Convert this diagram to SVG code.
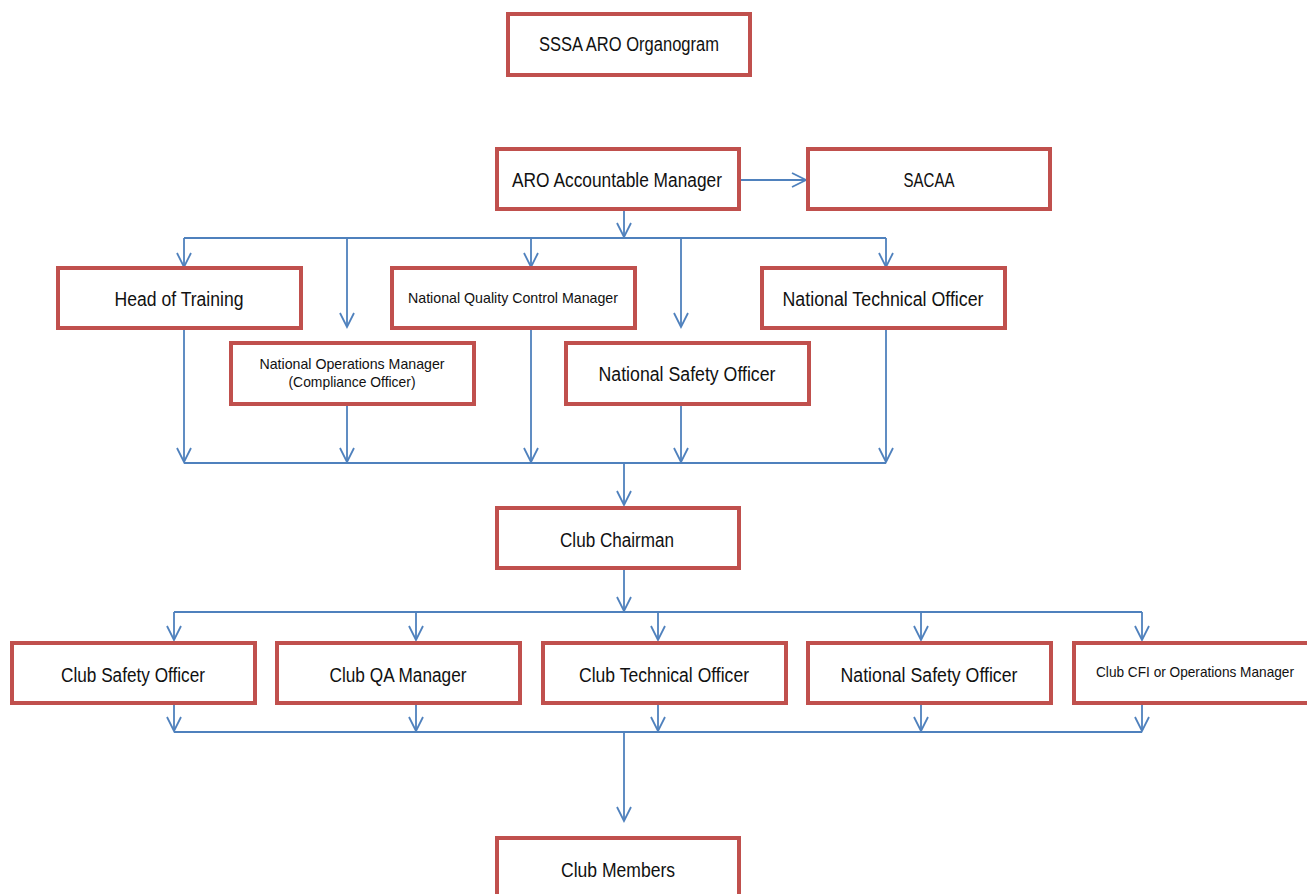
<svg xmlns="http://www.w3.org/2000/svg" width="1307" height="894" viewBox="0 0 1307 894">
<style>
.box{fill:#fff;stroke:#C0504D;stroke-width:4}
.t{font-family:"Liberation Sans",Arial,sans-serif;font-size:20px;fill:#111;text-anchor:middle}
.s{font-family:"Liberation Sans",Arial,sans-serif;font-size:15px;fill:#111;text-anchor:middle}
.c{fill:none;stroke:#4F81BD;stroke-width:1.8}
</style>
<defs>
<marker id="ah" markerUnits="userSpaceOnUse" markerWidth="16" markerHeight="16" refX="14" refY="7" orient="auto" overflow="visible">
<path d="M0,0 L14,7 L0,14" fill="none" stroke="#4F81BD" stroke-width="1.8"/>
</marker>
</defs>
<rect width="1307" height="894" fill="#fff"/>
<g id="connectors">
<line class="c" x1="740" y1="180" x2="806" y2="180" marker-end="url(#ah)"/>
<line class="c" x1="624" y1="210" x2="624" y2="237" marker-end="url(#ah)"/>
<line class="c" x1="184" y1="238" x2="886" y2="238"/>
<line class="c" x1="184" y1="238" x2="184" y2="267" marker-end="url(#ah)"/>
<line class="c" x1="347" y1="238" x2="347" y2="327" marker-end="url(#ah)"/>
<line class="c" x1="531" y1="238" x2="531" y2="267" marker-end="url(#ah)"/>
<line class="c" x1="681" y1="238" x2="681" y2="327" marker-end="url(#ah)"/>
<line class="c" x1="886" y1="238" x2="886" y2="267" marker-end="url(#ah)"/>
<line class="c" x1="184" y1="330" x2="184" y2="462" marker-end="url(#ah)"/>
<line class="c" x1="347" y1="406" x2="347" y2="462" marker-end="url(#ah)"/>
<line class="c" x1="531" y1="330" x2="531" y2="462" marker-end="url(#ah)"/>
<line class="c" x1="681" y1="406" x2="681" y2="462" marker-end="url(#ah)"/>
<line class="c" x1="886" y1="330" x2="886" y2="462" marker-end="url(#ah)"/>
<line class="c" x1="184" y1="463" x2="886" y2="463"/>
<line class="c" x1="624" y1="463" x2="624" y2="505" marker-end="url(#ah)"/>
<line class="c" x1="624" y1="570" x2="624" y2="611" marker-end="url(#ah)"/>
<line class="c" x1="174" y1="612" x2="1142" y2="612"/>
<line class="c" x1="174" y1="612" x2="174" y2="640" marker-end="url(#ah)"/>
<line class="c" x1="416" y1="612" x2="416" y2="640" marker-end="url(#ah)"/>
<line class="c" x1="658" y1="612" x2="658" y2="640" marker-end="url(#ah)"/>
<line class="c" x1="921" y1="612" x2="921" y2="640" marker-end="url(#ah)"/>
<line class="c" x1="1142" y1="612" x2="1142" y2="640" marker-end="url(#ah)"/>
<line class="c" x1="174" y1="705" x2="174" y2="731" marker-end="url(#ah)"/>
<line class="c" x1="416" y1="705" x2="416" y2="731" marker-end="url(#ah)"/>
<line class="c" x1="658" y1="705" x2="658" y2="731" marker-end="url(#ah)"/>
<line class="c" x1="921" y1="705" x2="921" y2="731" marker-end="url(#ah)"/>
<line class="c" x1="1142" y1="705" x2="1142" y2="731" marker-end="url(#ah)"/>
<line class="c" x1="174" y1="732" x2="1142" y2="732"/>
<line class="c" x1="624" y1="732" x2="624" y2="821" marker-end="url(#ah)"/>
</g>
<g id="title"><rect class="box" x="508" y="14" width="242" height="61"/><text class="t" x="629" y="51" textLength="180" lengthAdjust="spacingAndGlyphs">SSSA ARO Organogram</text></g>
<g id="aro"><rect class="box" x="497" y="149" width="242" height="60"/><text class="t" x="617" y="187" textLength="210" lengthAdjust="spacingAndGlyphs">ARO Accountable Manager</text></g>
<g id="sacaa"><rect class="box" x="808" y="149" width="242" height="60"/><text class="t" x="929" y="187" textLength="51" lengthAdjust="spacingAndGlyphs">SACAA</text></g>
<g id="head-training"><rect class="box" x="58" y="268" width="243" height="60"/><text class="t" x="179" y="306" textLength="129" lengthAdjust="spacingAndGlyphs">Head of Training</text></g>
<g id="nqcm"><rect class="box" x="392" y="268" width="243" height="60"/><text class="s" x="513" y="303" textLength="210" lengthAdjust="spacingAndGlyphs">National Quality Control Manager</text></g>
<g id="nto"><rect class="box" x="762" y="268" width="243" height="60"/><text class="t" x="883" y="306" textLength="201" lengthAdjust="spacingAndGlyphs">National Technical Officer</text></g>
<g id="nom"><rect class="box" x="231" y="343" width="243" height="61"/><text class="s" x="352" y="369" textLength="185" lengthAdjust="spacingAndGlyphs">National Operations Manager</text><text class="s" x="352" y="387" textLength="127" lengthAdjust="spacingAndGlyphs">(Compliance Officer)</text></g>
<g id="nso1"><rect class="box" x="566" y="343" width="243" height="61"/><text class="t" x="687" y="381" textLength="177" lengthAdjust="spacingAndGlyphs">National Safety Officer</text></g>
<g id="chairman"><rect class="box" x="497" y="508" width="242" height="60"/><text class="t" x="617" y="547" textLength="114" lengthAdjust="spacingAndGlyphs">Club Chairman</text></g>
<g id="cso"><rect class="box" x="12" y="643" width="243" height="60"/><text class="t" x="133" y="682" textLength="144" lengthAdjust="spacingAndGlyphs">Club Safety Officer</text></g>
<g id="cqa"><rect class="box" x="277" y="643" width="243" height="60"/><text class="t" x="398" y="682" textLength="137" lengthAdjust="spacingAndGlyphs">Club QA Manager</text></g>
<g id="cto"><rect class="box" x="543" y="643" width="243" height="60"/><text class="t" x="664" y="682" textLength="170" lengthAdjust="spacingAndGlyphs">Club Technical Officer</text></g>
<g id="nso2"><rect class="box" x="808" y="643" width="243" height="60"/><text class="t" x="929" y="682" textLength="177" lengthAdjust="spacingAndGlyphs">National Safety Officer</text></g>
<g id="cfi"><rect class="box" x="1074" y="643" width="250" height="60"/><text class="s" x="1195" y="677" textLength="198" lengthAdjust="spacingAndGlyphs">Club CFI or Operations Manager</text></g>
<g id="members"><rect class="box" x="497" y="838" width="242" height="70"/><text class="t" x="618" y="877" textLength="114" lengthAdjust="spacingAndGlyphs">Club Members</text></g>
</svg>
